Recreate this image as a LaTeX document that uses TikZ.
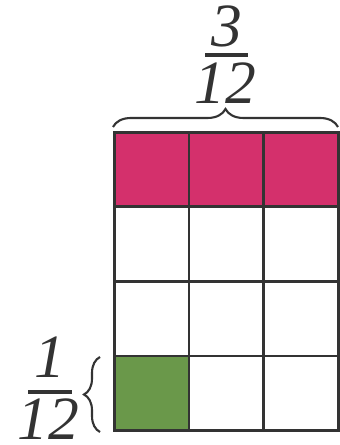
\documentclass[tikz,border=0pt]{standalone}
\usepackage{fontspec}
\setmainfont{Liberation Serif}
\usetikzlibrary{decorations.pathreplacing}
\definecolor{topcolor}{RGB}{212,48,108}
\definecolor{onecolor}{RGB}{106,152,74}
\definecolor{gridgray}{RGB}{51,51,51}
\tikzset{
  cell/.style={draw=gridgray, line width=1.7pt},
  digits/.style={font=\fontsize{35}{35}\selectfont\itshape, inner sep=0pt, text=gridgray},
  fracbar/.style={gridgray, line width=1.8pt},
  bracket/.style={decorate, decoration={brace, amplitude=#1}, gridgray, line width=1.2pt}
}
\begin{document}
\begin{tikzpicture}
\useasboundingbox (0,0) rectangle (6.78,8.9);
% coloured cells
\fill[topcolor] (2.29,4.76) rectangle (6.76,6.25);
\fill[onecolor] (2.29,0.29) rectangle (3.78,1.78);
% grid 3 x 4
\foreach \i in {0,...,2}
  \foreach \j in {0,...,3}
    \draw[cell] ({2.29+1.49*\i},{0.29+1.49*\j}) rectangle ++(1.49,1.49);
% braces
\draw[bracket=0.36cm] (2.26,6.36) -- (6.76,6.36);
\draw[bracket=0.32cm] (2.0,0.26) -- (2.0,1.76);
% fraction on top
\node[digits, anchor=south] (num3) at (4.53,7.95) {3};
\draw[fracbar] (4.1,7.8) -- (4.96,7.8);
\node[digits, anchor=north] (den12) at (4.5,7.66) {12};
% fraction on the left
\node[digits, anchor=south] (num1) at (1.0,1.35) {1};
\draw[fracbar] (0.56,1.06) -- (1.44,1.06);
\node[digits, anchor=north] (den12b) at (0.97,0.94) {12};
\end{tikzpicture}
\end{document}
